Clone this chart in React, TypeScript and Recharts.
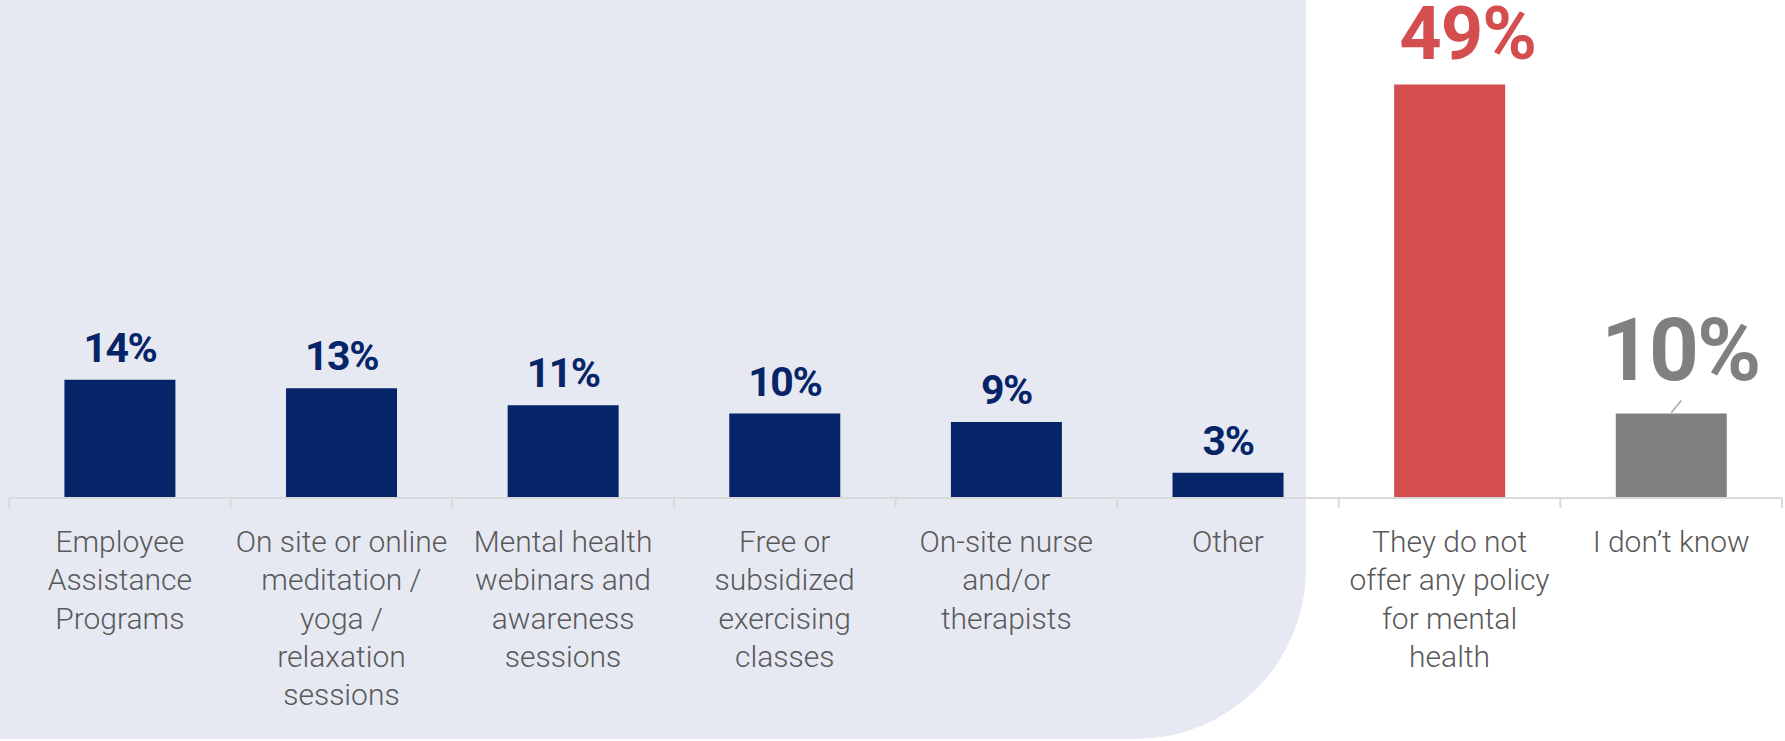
import { BarChart, Bar, XAxis, YAxis, Cell, LabelList } from 'recharts';

const categories = [
  'Employee Assistance Programs',
  'On site or online meditation / yoga / relaxation sessions',
  'Mental health webinars and awareness sessions',
  'Free or subsidized exercising classes',
  'On-site nurse and/or therapists',
  'Other',
  'They do not offer any policy for mental health',
  'I don’t know',
];

// how each category name wraps under the axis
const categoryLines = [
  ['Employee', 'Assistance', 'Programs'],
  ['On site or online', 'meditation /', 'yoga /', 'relaxation', 'sessions'],
  ['Mental health', 'webinars and', 'awareness', 'sessions'],
  ['Free or', 'subsidized', 'exercising', 'classes'],
  ['On-site nurse', 'and/or', 'therapists'],
  ['Other'],
  ['They do not', 'offer any policy', 'for mental', 'health'],
  ['I don’t know'],
];

const values = [14, 13, 11, 10, 9, 3, 49, 10];

const NAVY = '#062468';
const RED = '#D44E4F';
const GRAY = '#808080';
const PANEL = '#E6E9F2';
const AXIS = '#D9D9D9';
const TEXT = '#595959';
const FONT = 'Roboto, "Noto Sans", sans-serif';

const W = 1785;
const H = 741;
const MARGIN = { top: 76, right: 3, bottom: 0, left: 9 };
const AXIS_H = 243;
const BAND = (W - MARGIN.left - MARGIN.right) / categories.length;

const data = categories.map((name, i) => ({ name, value: values[i] }));
const barColor = (i: number) => (i === 6 ? RED : i === 7 ? GRAY : NAVY);

function CategoryTick(props: any) {
  const { x, y, payload, index } = props;
  const idx = payload?.index ?? index;
  const lines = categoryLines[idx] ?? [String(payload.value)];
  const left = x - BAND / 2;
  const last = idx === categories.length - 1;
  return (
    <g>
      <line x1={left} y1={y} x2={left} y2={y + 10} stroke={AXIS} strokeWidth={2} />
      {last && <line x1={left + BAND} y1={y} x2={left + BAND} y2={y + 10} stroke={AXIS} strokeWidth={2} />}
      <text x={x} y={y + 54} textAnchor="middle" fill={TEXT} fontSize={30} fontWeight={300} fontFamily={FONT}>
        {lines.map((l: string, k: number) => (
          <tspan key={k} x={x} dy={k === 0 ? 0 : 38.3}>
            {l}
          </tspan>
        ))}
      </text>
    </g>
  );
}

function ValueLabel(props: any) {
  const { x, y, width, index, value } = props;
  const cx = x + width / 2;
  if (index === 6) {
    return (
      <text x={cx + 18} y={y - 25} textAnchor="middle" fill={RED} fontSize={74} fontWeight={700} fontFamily={FONT} letterSpacing={-1}>
        {value}%
      </text>
    );
  }
  if (index === 7) {
    return (
      <g>
        <line x1={cx} y1={y - 1} x2={cx + 10} y2={y - 13} stroke="#A6A6A6" strokeWidth={1.5} />
        <text x={cx + 9} y={y - 34} textAnchor="middle" fill={GRAY} fontSize={87} fontWeight={700} fontFamily={FONT} letterSpacing={-2}>
          {value}%
        </text>
      </g>
    );
  }
  return (
    <text x={cx} y={y - 18} textAnchor="middle" fill={NAVY} fontSize={41} fontWeight={700} fontFamily={FONT} letterSpacing={-1.5}>
      {value}%
    </text>
  );
}

export default function App() {
  return (
    <div style={{ position: 'absolute', left: 0, top: 0, width: W, height: H, background: '#fff', overflow: 'hidden' }}>
      <svg width={W} height={H} style={{ position: 'absolute', left: 0, top: 0 }}>
        <path d="M0,0 H1306 V569 A170,170 0 0 1 1136,739 H0 Z" fill={PANEL} />
      </svg>
      <div style={{ position: 'absolute', left: 0, top: 0 }}>
        <BarChart width={W} height={H} data={data} margin={MARGIN} barCategoryGap="25%">
          <YAxis hide domain={[0, 50]} />
          <XAxis
            dataKey="name"
            height={AXIS_H}
            interval={0}
            tickSize={0}
            tickMargin={0}
            tickLine={false}
            axisLine={{ stroke: AXIS, strokeWidth: 2 }}
            tick={<CategoryTick />}
          />
          <Bar dataKey="value" isAnimationActive={false}>
            {data.map((_, i) => (
              <Cell key={i} fill={barColor(i)} />
            ))}
            <LabelList dataKey="value" content={<ValueLabel />} />
          </Bar>
        </BarChart>
      </div>
    </div>
  );
}
